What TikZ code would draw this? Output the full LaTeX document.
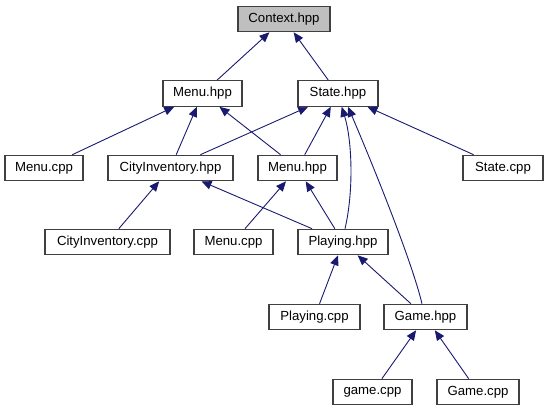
\documentclass[tikz,border=0pt]{standalone}
\usepackage{fontspec}
\setmainfont{Liberation Sans}
\usetikzlibrary{arrows.meta}
\definecolor{edgeblue}{HTML}{191970}
\definecolor{boxline}{HTML}{404040}
\definecolor{curfill}{HTML}{BFBFBF}
\begin{document}
\begin{tikzpicture}[x=1pt,y=-1pt,
  filebox/.style={draw=boxline,line width=1.1pt,fill=white,inner sep=0pt,minimum height=25.5pt,
    font=\fontsize{13.2}{15}\selectfont,text=black},
  curbox/.style={filebox,fill=curfill},
  dep/.style={draw=edgeblue,line width=0.9pt,{Triangle[length=10pt,width=8.5pt,fill=edgeblue]}-}]
\useasboundingbox (0,0) rectangle (548,411);
% nodes
\node[curbox,minimum width=92pt] (ctx) at (284,19) {Context.hpp};
\node[filebox,minimum width=79pt] (menuh) at (202.5,93.5) {Menu.hpp};
\node[filebox,minimum width=80pt] (stateh) at (338,93.5) {State.hpp};
\node[filebox,minimum width=78pt] (menucppa) at (44,168) {Menu.cpp};
\node[filebox,minimum width=125pt] (cityh) at (170.5,168) {CityInventory.hpp};
\node[filebox,minimum width=79pt] (menuhb) at (297.5,168) {Menu.hpp};
\node[filebox,minimum width=80pt] (statecpp) at (503,168) {State.cpp};
\node[filebox,minimum width=125pt] (citycpp) at (107.5,242) {CityInventory.cpp};
\node[filebox,minimum width=79pt] (menucppb) at (233.5,242) {Menu.cpp};
\node[filebox,minimum width=90pt] (playingh) at (343,242) {Playing.hpp};
\node[filebox,minimum width=91pt] (playingcpp) at (314.5,317) {Playing.cpp};
\node[filebox,minimum width=83pt] (gameh) at (425.5,317) {Game.hpp};
\node[filebox,minimum width=79pt] (gamecpplow) at (372.5,392) {game.cpp};
\node[filebox,minimum width=82pt] (gamecppup) at (478,392) {Game.cpp};
% edges (arrow points at the included file)
\draw[dep] (ctx) -- (menuh);
\draw[dep] (ctx) -- (stateh);
\draw[dep] (menuh) -- (menucppa);
\draw[dep] (menuh) -- (cityh);
\draw[dep] (menuh) -- (menuhb);
\draw[dep] (stateh) -- (cityh);
\draw[dep] (stateh) -- (menuhb);
\draw[dep] (stateh) -- (statecpp);
\draw[dep] ([xshift=3.7pt]stateh.south) .. controls (352,140) and (354,190) .. ([xshift=2pt]playingh.north);
\draw[dep] ([xshift=10pt]stateh.south) .. controls (375,170) and (412,262) .. ([xshift=-3.5pt]gameh.north);
\draw[dep] (cityh) -- (citycpp);
\draw[dep] (cityh) -- (playingh);
\draw[dep] (menuhb) -- (menucppb);
\draw[dep] (menuhb) -- (playingh);
\draw[dep] (playingh) -- (playingcpp);
\draw[dep] (playingh) -- (gameh);
\draw[dep] (gameh) -- (gamecpplow);
\draw[dep] (gameh) -- (gamecppup);
\end{tikzpicture}
\end{document}
